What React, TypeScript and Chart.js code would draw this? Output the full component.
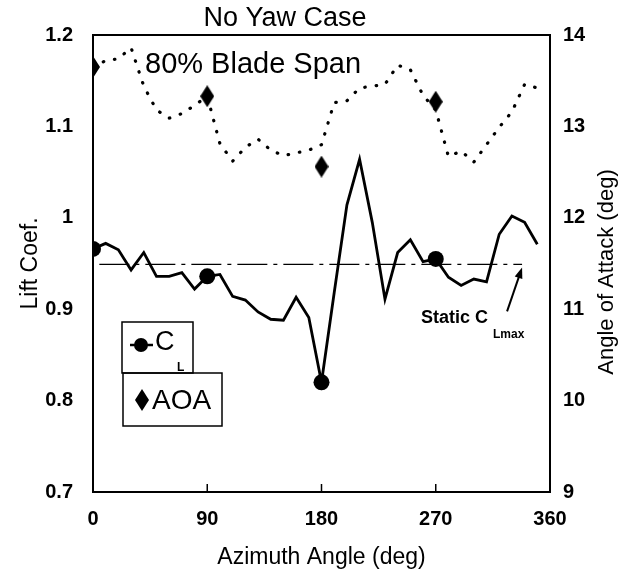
import React, { useEffect, useRef } from "react";
import { Chart, registerables } from "chart.js";

Chart.register(...registerables);

// ---- data ----
const angles = [0, 10, 20, 30, 40, 50, 60, 70, 80, 90, 100, 110, 120, 130, 140, 150, 160, 170, 180, 190, 200, 210, 220, 230, 240, 250, 260, 270, 280, 290, 300, 310, 320, 330, 340, 350];
const liftCoef = [0.966, 0.972, 0.965, 0.943, 0.962, 0.936, 0.936, 0.94, 0.922, 0.936, 0.938, 0.914, 0.91, 0.897, 0.889, 0.888, 0.913, 0.891, 0.82, 0.918, 1.014, 1.064, 0.995, 0.911, 0.962, 0.976, 0.952, 0.955, 0.935, 0.926, 0.933, 0.93, 0.982, 1.002, 0.995, 0.971];
const aoaDeg = [13.65, 13.72, 13.74, 13.86, 13.44, 13.18, 13.09, 13.14, 13.23, 13.33, 12.81, 12.62, 12.77, 12.86, 12.74, 12.68, 12.71, 12.74, 12.8, 13.26, 13.28, 13.42, 13.44, 13.46, 13.67, 13.62, 13.34, 13.18, 12.67, 12.73, 12.61, 12.8, 12.99, 13.16, 13.46, 13.42];
const markerAngles = [0, 90, 180, 270];
const aoaMarkers = [13.65, 13.33, 12.56, 13.27];
const staticAngles = [5, 338];
const staticClmax = [0.949, 0.949];
const xTicks = [0, 90, 180, 270, 360];
const leftTicks = [0.7, 0.8, 0.9, 1.0, 1.1, 1.2];
const rightTicks = [9, 10, 11, 12, 13, 14];

const FONT = "'Liberation Sans', Arial, Helvetica, sans-serif";

function makeDiamond(w: number, h: number): HTMLCanvasElement {
  const c = document.createElement("canvas");
  c.width = w;
  c.height = h;
  const g = c.getContext("2d")!;
  g.fillStyle = "#000";
  g.beginPath();
  g.moveTo(w / 2, 0);
  g.lineTo(w, h / 2);
  g.lineTo(w / 2, h);
  g.lineTo(0, h / 2);
  g.closePath();
  g.fill();
  return c;
}

const decorPlugin = {
  id: "decor",
  afterDraw(chart: any) {
    const { ctx, chartArea } = chart;
    const xs = chart.scales.x;
    const ys = chart.scales.y;
    const { left, right, top, bottom } = chartArea;
    ctx.save();
    ctx.strokeStyle = "#000";
    ctx.fillStyle = "#000";
    // frame
    ctx.lineWidth = 2;
    ctx.strokeRect(left, top, right - left, bottom - top);
    // inward x tick marks
    ctx.lineWidth = 1.5;
    [90, 180, 270].forEach((v) => {
      const px = xs.getPixelForValue(v);
      ctx.beginPath();
      ctx.moveTo(px, bottom);
      ctx.lineTo(px, bottom - 8);
      ctx.stroke();
    });
    // titles
    ctx.textBaseline = "middle";
    ctx.textAlign = "center";
    ctx.font = `27px ${FONT}`;
    ctx.fillText("No Yaw Case", 285, 19);
    ctx.textAlign = "left";
    ctx.font = `29px ${FONT}`;
    ctx.fillText("80% Blade Span", 145, 65);
    // right axis title (reads bottom to top)
    ctx.save();
    ctx.translate(607, 272);
    ctx.rotate(-Math.PI / 2);
    ctx.textAlign = "center";
    ctx.font = `22px ${FONT}`;
    ctx.fillText("Angle of Attack (deg)", 0, 0);
    ctx.restore();

    // Static CLmax label + arrow
    const tipX = xs.getPixelForValue(338);
    const tipY = ys.getPixelForValue(staticClmax[0]) + 3;
    const tailX = tipX - 15;
    const tailY = tipY + 44;
    ctx.lineWidth = 2;
    ctx.beginPath();
    ctx.moveTo(tailX, tailY);
    ctx.lineTo(tipX - 2, tipY + 6);
    ctx.stroke();
    const ang = Math.atan2(tipY - tailY, tipX - tailX);
    ctx.beginPath();
    ctx.moveTo(tipX, tipY);
    ctx.lineTo(tipX - 11 * Math.cos(ang) + 4 * Math.sin(ang), tipY - 11 * Math.sin(ang) - 4 * Math.cos(ang));
    ctx.lineTo(tipX - 11 * Math.cos(ang) - 4 * Math.sin(ang), tipY - 11 * Math.sin(ang) + 4 * Math.cos(ang));
    ctx.closePath();
    ctx.fill();
    ctx.textAlign = "left";
    ctx.font = `bold 18px ${FONT}`;
    ctx.fillText("Static C", 421, 318);
    ctx.font = `bold 12px ${FONT}`;
    ctx.fillText("Lmax", 493, 335);

    // legend boxes
    ctx.lineWidth = 1.5;
    ctx.strokeRect(122, 322, 71, 51);
    ctx.strokeRect(123, 373, 99, 53);
    // CL entry
    ctx.lineWidth = 2.5;
    ctx.beginPath();
    ctx.moveTo(130, 345);
    ctx.lineTo(153, 345);
    ctx.stroke();
    ctx.beginPath();
    ctx.arc(141, 345, 7, 0, Math.PI * 2);
    ctx.fill();
    ctx.font = `27px ${FONT}`;
    ctx.fillText("C", 155, 343);
    ctx.font = `bold 12px ${FONT}`;
    ctx.fillText("L", 177, 368);
    // AOA entry
    const d = makeDiamond(14, 22);
    ctx.drawImage(d, 142 - 7, 400 - 11);
    ctx.font = `28px ${FONT}`;
    ctx.fillText("AOA", 152, 401);
    ctx.restore();
  },
};

export default function App() {
  const ref = useRef<HTMLCanvasElement | null>(null);
  useEffect(() => {
    if (!ref.current) return;
    const diamond = makeDiamond(14, 22);
    const chart = new Chart(ref.current, {
      type: "line",
      data: {
        datasets: [
          {
            label: "CL",
            data: angles.map((a, i) => ({ x: a, y: liftCoef[i] })),
            yAxisID: "y",
            borderColor: "#000",
            backgroundColor: "#000",
            borderWidth: 2.8,
            pointRadius: (c: any) => (markerAngles.includes(angles[c.dataIndex]) ? 8 : 0),
            pointBorderWidth: 0,
            pointBackgroundColor: "#000",
            tension: 0,
          },
          {
            label: "AOA",
            data: angles.map((a, i) => ({ x: a, y: aoaDeg[i] })),
            yAxisID: "y1",
            borderColor: "#000",
            borderWidth: 3.2,
            borderDash: [0.5, 11],
            borderCapStyle: "round",
            pointRadius: 0,
            tension: 0,
          },
          {
            label: "AOA markers",
            data: markerAngles.map((a, i) => ({ x: a, y: aoaMarkers[i] })),
            yAxisID: "y1",
            showLine: false,
            pointStyle: diamond as any,
            pointRadius: 10,
          },
          {
            label: "Static CLmax",
            data: staticAngles.map((a, i) => ({ x: a, y: staticClmax[i] })),
            yAxisID: "y",
            borderColor: "#000",
            borderWidth: 1.3,
            borderDash: [30, 6, 4, 6],
            pointRadius: 0,
          },
        ],
      },
      options: {
        animation: false,
        responsive: false,
        maintainAspectRatio: false,
        devicePixelRatio: 1,
        layout: { padding: { top: 35, left: 0, right: 0, bottom: 0 } },
        plugins: { legend: { display: false }, tooltip: { enabled: false }, title: { display: false } },
        scales: {
          x: {
            type: "linear",
            min: 0,
            max: 360,
            afterBuildTicks: (s: any) => {
              s.ticks = xTicks.map((v) => ({ value: v }));
            },
            afterFit: (s: any) => {
              s.height = 82;
            },
            grid: { display: false, drawTicks: false },
            border: { display: false },
            ticks: {
              color: "#000",
              padding: 15,
              maxRotation: 0,
              font: { family: FONT, size: 20, weight: "bold" },
              callback: (v: any) => String(v),
            },
            title: {
              display: true,
              text: "Azimuth Angle (deg)",
              color: "#000",
              font: { family: FONT, size: 23 },
              padding: { top: 0, bottom: 3 },
            },
          },
          y: {
            type: "linear",
            position: "left",
            min: 0.7,
            max: 1.2,
            afterBuildTicks: (s: any) => {
              s.ticks = leftTicks.map((v) => ({ value: v }));
            },
            afterFit: (s: any) => {
              s.width = 93;
            },
            grid: { display: false, drawTicks: false },
            border: { display: false },
            ticks: {
              color: "#000",
              padding: 20,
              font: { family: FONT, size: 20, weight: "bold" },
              callback: (v: any) => String(Math.round(Number(v) * 10) / 10),
            },
            title: {
              display: true,
              text: "Lift Coef.",
              color: "#000",
              font: { family: FONT, size: 23 },
              padding: { top: 17, bottom: 0 },
            },
          },
          y1: {
            type: "linear",
            position: "right",
            min: 9,
            max: 14,
            afterBuildTicks: (s: any) => {
              s.ticks = rightTicks.map((v) => ({ value: v }));
            },
            afterFit: (s: any) => {
              s.width = 74;
            },
            grid: { display: false, drawTicks: false },
            border: { display: false },
            ticks: {
              color: "#000",
              padding: 13,
              font: { family: FONT, size: 20, weight: "bold" },
              callback: (v: any) => String(v),
            },
            title: { display: false },
          },
        },
      },
      plugins: [decorPlugin],
    } as any);
    return () => chart.destroy();
  }, []);
  return (
    <div style={{ position: "absolute", left: 0, top: 0, width: 624, height: 574 }}>
      <canvas ref={ref} width={624} height={574} style={{ display: "block" }} />
    </div>
  );
}
